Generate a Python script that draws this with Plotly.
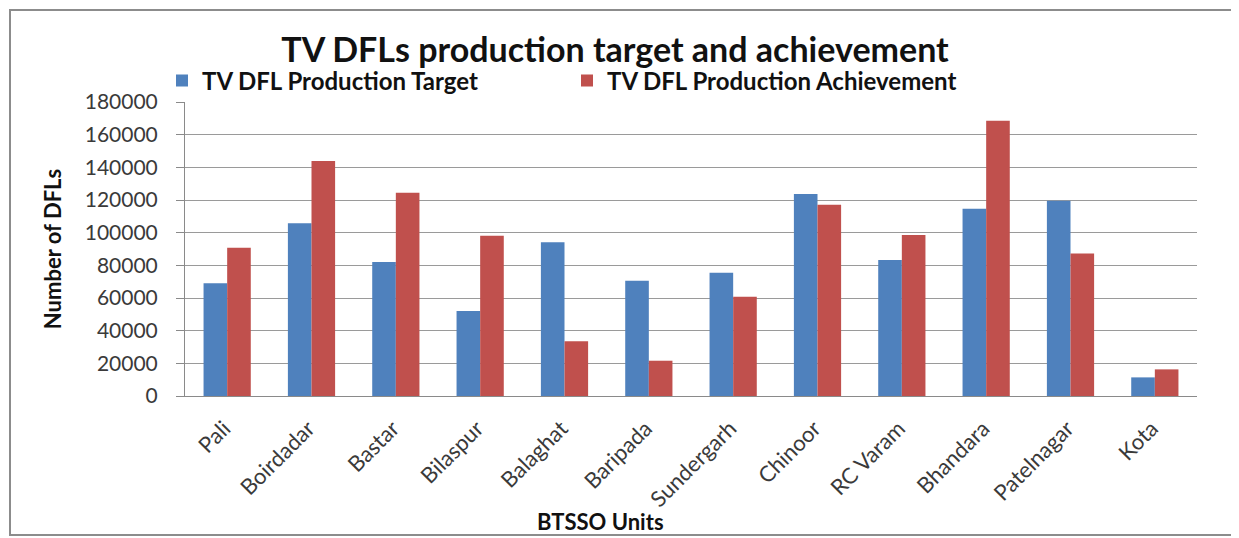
import plotly.graph_objects as go

units = ["Pali", "Boirdadar", "Bastar", "Bilaspur", "Balaghat", "Baripada",
         "Sundergarh", "Chinoor", "RC Varam", "Bhandara", "Patelnagar", "Kota"]
target = [69000, 105700, 82000, 52000, 94100, 70600, 75500, 123700, 83300, 114700, 119600, 11400]
achievement = [90800, 143900, 124500, 98100, 33500, 21600, 60800, 117100, 98600, 168500, 87300, 16300]
y_ticks = [0, 20000, 40000, 60000, 80000, 100000, 120000, 140000, 160000, 180000]

FONT = "Lato"
TXT = "#3a3a3a"
OFF = 8  # page body margin

fig = go.Figure()
fig.add_trace(go.Bar(name="TV DFL Production Target", x=units, y=target,
                     marker=dict(color="#4F81BD", line=dict(width=0))))
fig.add_trace(go.Bar(name="TV DFL Production Achievement", x=units, y=achievement,
                     marker=dict(color="#C0504D", line=dict(width=0))))

# target page-pixel geometry
L, R, T, B = 185, 1197, 102, 396
W, H = 1239 - OFF, 538 - OFF
pw, ph = R - L, B - T

def px(x):
    return (x - L) / pw

def py(y):
    return (B - y) / ph

fig.update_layout(
    width=W, height=H, autosize=False,
    margin=dict(l=L - OFF, r=(W + OFF) - R, t=T - OFF, b=(H + OFF) - B, pad=0),
    paper_bgcolor="white", plot_bgcolor="white",
    barmode="group", bargap=0.44, bargroupgap=0,
    font=dict(family=FONT, color=TXT),
    title=dict(text="<b>TV DFLs production target and achievement</b>",
               x=(615 - OFF) / W, xref="container", xanchor="center",
               y=1 - (50 - OFF) / H, yanchor="middle",
               font=dict(size=34, color="#111111", family=FONT)),
    legend=dict(orientation="h", x=px(162), y=py(81), xanchor="left", yanchor="middle",
                font=dict(size=24, color="#111111", family=FONT, weight="bold"),
                entrywidth=360, entrywidthmode="pixels",
                bgcolor="rgba(0,0,0,0)", itemwidth=30, tracegroupgap=0),
    showlegend=True,
)

fig.update_xaxes(
    type="category", tickangle=-45,
    tickfont=dict(size=22, color=TXT, family=FONT),
    showline=True, linecolor="#8a8a8a", linewidth=1,
    showgrid=False, ticks="", range=[-0.5, len(units) - 0.5],
    ticklabelstandoff=10, ticklabelshift=-3,
)
fig.update_yaxes(
    range=[0, 180000], tickvals=y_ticks, ticktext=[str(v) for v in y_ticks],
    tickfont=dict(size=21, color=TXT, family=FONT),
    showline=True, linecolor="#8a8a8a", linewidth=1,
    ticks="outside", ticklen=8, tickcolor="#8a8a8a",
    ticklabelstandoff=14,
    showgrid=True, gridcolor="#9a9a9a", gridwidth=1,
    zeroline=False,
    title=dict(text="<b>Number of DFLs</b>", font=dict(size=22, color="#111111", family=FONT),
               standoff=17),
)

fig.add_annotation(text="<b>BTSSO Units</b>", xref="paper", yref="paper",
                   x=px(600), y=py(521), xanchor="center", yanchor="middle",
                   showarrow=False, font=dict(size=22, color="#111111", family=FONT))

fig.add_shape(type="rect", xref="paper", yref="paper",
              x0=px(10), x1=px(1235), y0=py(535), y1=py(10),
              line=dict(color="#8c8c8c", width=2), fillcolor="rgba(0,0,0,0)", layer="below")

fig.write_html("out.html")
